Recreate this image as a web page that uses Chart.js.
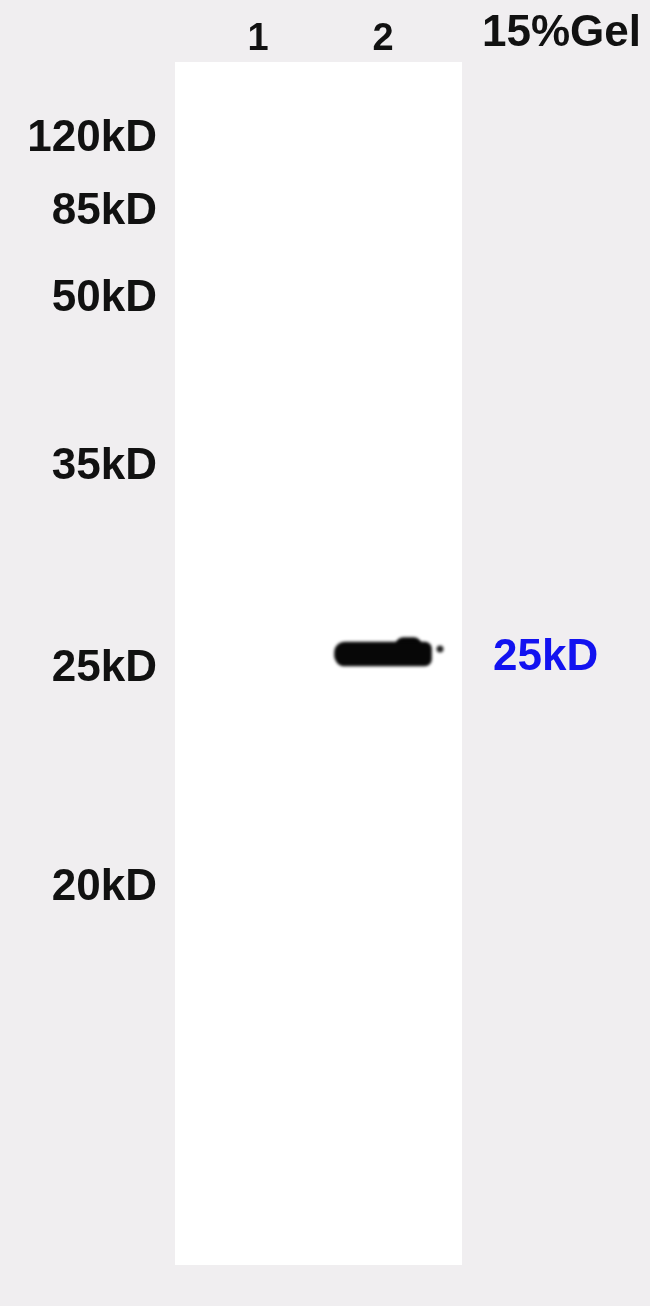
<!DOCTYPE html>
<html>
<head>
<meta charset="utf-8">
<script src="https://cdn.jsdelivr.net/npm/chart.js@4.4.1/dist/chart.umd.min.js"></script>
<style>
  html, body { margin: 0; padding: 0; background: #f0eef0; }
  canvas { display: block; }
</style>
</head>
<body>
<canvas id="c" width="650" height="1306"></canvas>
<script>
// ---- data ----
const laneLabels = ["1", "2"];
const laneNumbers = [1, 2];
const markerLabels = ["120kD", "85kD", "50kD", "35kD", "25kD", "20kD"];
// relative mobility (0 = top of membrane, 1 = bottom)
const markerMobility = [0.0635, 0.1245, 0.197, 0.3365, 0.5045, 0.6865];
const gelLabel = "15%Gel";
const bandLabel = "25kD";
const bandLabelMobility = 0.4955;
const bandLane = [2];
const bandMobility = [[0.4821, 0.5021]];      // main band span
const bandLobeLane = [2.204];
const bandLobeMobility = [[0.4785, 0.492]];  // upper bulge of the band
const speckLane = [2.456];
const speckMobility = [0.488];

function noPadY(s, w) { s.width = w; s.paddingTop = 0; s.paddingBottom = 0; }

const membranePlugin = {
  id: 'membrane',
  beforeDraw(chart) {
    const { ctx, chartArea: a } = chart;
    ctx.save();
    ctx.fillStyle = '#f0eef0';
    ctx.fillRect(0, 0, chart.width, chart.height);
    ctx.fillStyle = '#ffffff';
    ctx.fillRect(a.left, a.top, a.right - a.left, a.bottom - a.top);
    ctx.restore();
  },
  beforeDatasetsDraw(chart) {
    chart.ctx.save();
    chart.ctx.filter = 'blur(1.6px)';
  },
  afterDatasetsDraw(chart) {
    chart.ctx.restore();
  },
  afterDraw(chart) {
    const { ctx } = chart;
    ctx.save();
    ctx.fillStyle = '#111111';
    ctx.font = 'bold 44px "Liberation Sans", Arial, sans-serif';
    ctx.textAlign = 'right';
    ctx.textBaseline = 'alphabetic';
    ctx.fillText(gelLabel, 641, 46);
    ctx.restore();
  }
};

new Chart(document.getElementById('c'), {
  type: 'bar',
  data: {
    datasets: [
      {
        type: 'bar',
        data: bandLane.map((x, i) => ({ x, y: bandMobility[i] })),
        backgroundColor: '#070707',
        barThickness: 97,
        grouped: false,
        borderSkipped: false,
        borderRadius: { topLeft: 11, bottomLeft: 11, topRight: 7, bottomRight: 7 },
        yAxisID: 'y'
      },
      {
        type: 'bar',
        data: bandLobeLane.map((x, i) => ({ x, y: bandLobeMobility[i] })),
        backgroundColor: '#070707',
        barThickness: 24,
        grouped: false,
        borderSkipped: false,
        borderRadius: 7,
        yAxisID: 'y'
      },
      {
        type: 'scatter',
        data: speckLane.map((x, i) => ({ x, y: speckMobility[i] })),
        backgroundColor: '#222222',
        borderWidth: 0,
        pointRadius: 3.5,
        yAxisID: 'y'
      }
    ]
  },
  options: {
    responsive: false,
    devicePixelRatio: 1,
    animation: false,
    layout: { padding: { left: 0, right: 0, top: 0, bottom: 41 } },
    plugins: { legend: { display: false }, tooltip: { enabled: false }, title: { display: false } },
    scales: {
      x: {
        type: 'linear',
        position: 'top',
        offset: false,
        min: 0.336,
        max: 2.632,
        grid: { display: false, drawTicks: false, offset: false },
        border: { display: false },
        afterFit(s) { s.height = 62; s.paddingLeft = 0; s.paddingRight = 0; },
        afterBuildTicks(s) { s.ticks = laneNumbers.map(v => ({ value: v })); },
        ticks: {
          autoSkip: false,
          maxRotation: 0,
          padding: 0,
          color: '#111111',
          font: { family: '"Liberation Sans", Arial, sans-serif', size: 38, weight: 'bold' },
          callback: (v, i) => laneLabels[i]
        }
      },
      y: {
        type: 'linear',
        position: 'left',
        reverse: true,
        min: 0,
        max: 1,
        grid: { display: false, drawTicks: false },
        border: { display: false },
        afterFit(s) { noPadY(s, 175); },
        afterBuildTicks(s) { s.ticks = markerMobility.map(v => ({ value: v })); },
        ticks: {
          autoSkip: false,
          padding: 18,
          color: '#111111',
          font: { family: '"Liberation Sans", Arial, sans-serif', size: 44, weight: 'bold' },
          callback: (v, i) => markerLabels[i]
        }
      },
      y2: {
        type: 'linear',
        position: 'right',
        reverse: true,
        min: 0,
        max: 1,
        grid: { display: false, drawTicks: false },
        border: { display: false },
        afterFit(s) { noPadY(s, 188); },
        afterBuildTicks(s) { s.ticks = [{ value: bandLabelMobility }]; },
        ticks: {
          autoSkip: false,
          padding: 31,
          color: '#1212f0',
          font: { family: '"Liberation Sans", Arial, sans-serif', size: 44, weight: 'bold' },
          callback: () => bandLabel
        }
      }
    }
  },
  plugins: [membranePlugin]
});
</script>
</body>
</html>
